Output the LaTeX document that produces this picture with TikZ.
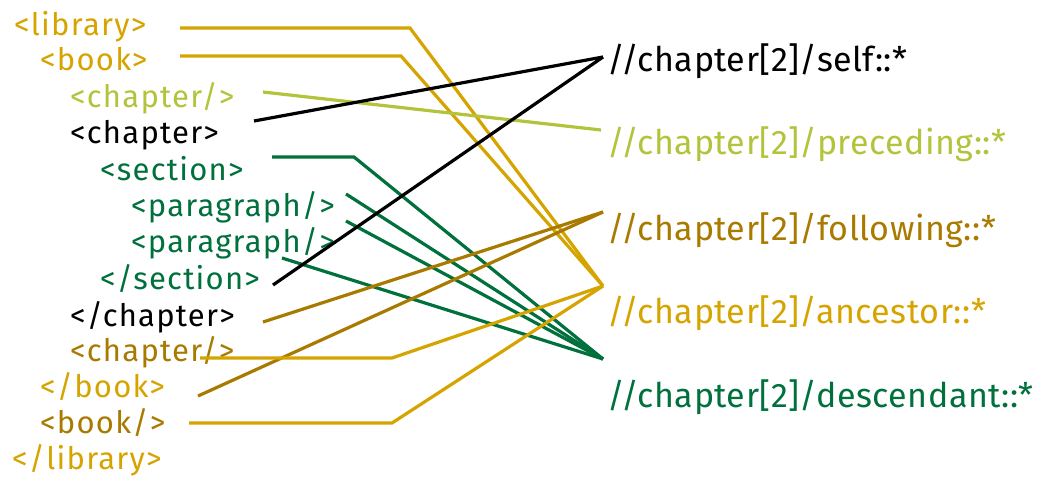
\documentclass[tikz,border=0pt]{standalone}
\usepackage{fontspec}
\setmainfont{Fira Sans}
\newfontfamily\labfont[LetterSpace=4]{Fira Sans}
\newfontfamily\qryfont[LetterSpace=1.5]{Fira Sans}
\definecolor{cgold}{HTML}{D6A400}
\definecolor{cbrown}{HTML}{A97A00}
\definecolor{clight}{HTML}{B4C33C}
\definecolor{cgreen}{HTML}{00703C}
\begin{document}
\begin{tikzpicture}[x=1pt,y=-1pt,
  lab/.style={anchor=base west,inner sep=0pt,font=\labfont\fontsize{31}{35}\selectfont},
  qry/.style={anchor=base west,inner sep=0pt,font=\qryfont\fontsize{34}{38}\selectfont},
  conn/.style={line width=3.2pt,line join=miter}]
\useasboundingbox (0,0) rectangle (1040,483);
% left labels
\node[lab,text=cgold]  (library)  at (14,35)  {<library>};
\node[lab,text=cgold]  (book)     at (40,70)  {<book>};
\node[lab,text=clight] (ch1)      at (70,107) {<chapter/>};
\node[lab,text=black]  (ch2)      at (70,143) {<chapter>};
\node[lab,text=cgreen] (sec)      at (100,180){<section>};
\node[lab,text=cgreen] (par1)     at (131,216){<paragraph/>};
\node[lab,text=cgreen] (par2)     at (131,252){<paragraph/>};
\node[lab,text=cgreen] (esec)     at (100,289){</section>};
\node[lab,text=black]  (ech2)     at (70,326) {</chapter>};
\node[lab,text=cbrown] (ch3)      at (70,361) {<chapter/>};
\node[lab,text=cgold]  (ebook)    at (40,397) {</book>};
\node[lab,text=cbrown] (book2)    at (40,433) {<book/>};
\node[lab,text=cgold]  (elibrary) at (12,469) {</library>};
% right labels
\node[qry,text=black]  (qself) at (607,71)  {//chapter[2]/self::*};
\node[qry,text=clight] (qprec) at (607,154) {//chapter[2]/preceding::*};
\node[qry,text=cbrown] (qfoll) at (607,240) {//chapter[2]/following::*};
\node[qry,text=cgold]  (qanc)  at (607,323) {//chapter[2]/ancestor::*};
\node[qry,text=cgreen] (qdesc) at (607,407) {//chapter[2]/descendant::*};
% convergence points
\coordinate (pself) at (603,57);
\coordinate (pprec) at (601,130);
\coordinate (pfoll) at (603,212);
\coordinate (panc)  at (603,286);
\coordinate (pdesc) at (603,359);
% start points
\coordinate (sLib) at (180,28);  \coordinate (kLib) at (410,28);
\coordinate (sBook) at (180,56); \coordinate (kBook) at (401,56);
\coordinate (sCh1) at (263,92);
\coordinate (sCh2) at (254,121);
\coordinate (sSec) at (272,157); \coordinate (kSec) at (354,157);
\coordinate (sPar1) at (346,194);
\coordinate (sPar2) at (346,221);
\coordinate (sPar3) at (282,258);
\coordinate (sEsec) at (273,285);
\coordinate (sEch2) at (263,322);
\coordinate (sCh3) at (200,358); \coordinate (kCh3) at (392,358);
\coordinate (sEbook) at (198,396);
\coordinate (sBook2) at (189,423); \coordinate (kBook2) at (392,423);
% connectors
\draw[conn,cgold] (sLib) -- (kLib) -- (panc);
\draw[conn,cgold] (sBook) -- (kBook) -- (panc);
\draw[conn,clight] (sCh1) -- (pprec);
\draw[conn,black] (sCh2) -- (pself);
\draw[conn,cgreen] (sSec) -- (kSec) -- (pdesc);
\draw[conn,cgreen] (sPar1) -- (pdesc);
\draw[conn,cgreen] (sPar2) -- (pdesc);
\draw[conn,cgreen] (sPar3) -- (pdesc);
\draw[conn,black] (sEsec) -- (pself);
\draw[conn,cbrown] (sEch2) -- (pfoll);
\draw[conn,cbrown] (sEbook) -- (pfoll);
\draw[conn,cgold] (sCh3) -- (kCh3) -- (panc);
\draw[conn,cgold] (sBook2) -- (kBook2) -- (panc);
\end{tikzpicture}
\end{document}
